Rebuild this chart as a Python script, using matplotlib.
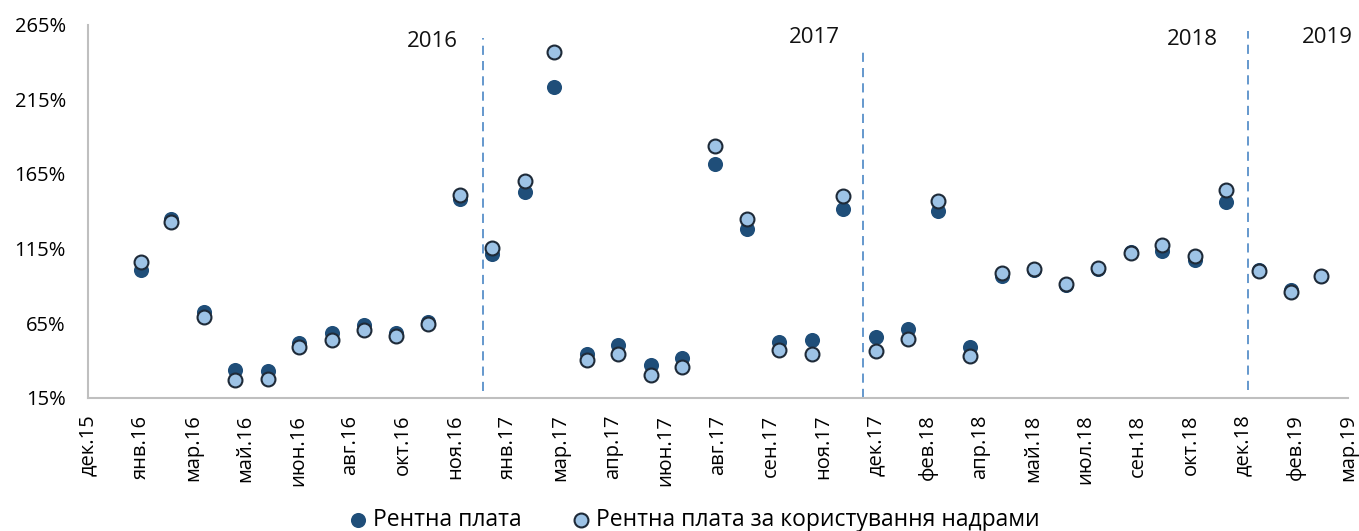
import matplotlib.pyplot as plt
import pandas as pd

# ==========================================================
# Data
# ==========================================================

months = pd.date_range("2016-01-31", periods=38, freq="ME")

rent_total = [
    100.5, 134.9, 72.3, 33.5, 33.3, 51.8, 58.5, 63.6, 58.5, 65.6, 148.3, 111.6,
    153.0, 223.0, 44.5, 50.7, 36.8, 41.8, 171.9, 128.2, 52.2, 53.6, 141.6, 55.9,
    61.4, 140.5, 48.9, 96.9, 100.9, 90.9, 101.1, 112.8, 113.2, 107.2, 146.0,
    100.6, 87.1, 96.9,
]
rent_subsoil = [
    105.8, 133.1, 69.3, 27.3, 27.9, 49.2, 54.0, 60.7, 56.3, 64.8, 151.0, 115.2,
    160.3, 246.5, 40.7, 44.5, 30.1, 35.5, 184.0, 134.9, 46.9, 44.7, 150.5, 46.2,
    54.7, 147.2, 43.3, 98.7, 101.6, 91.1, 101.8, 112.1, 117.2, 109.8, 154.0,
    100.3, 86.0, 96.4,
]

series_names = ["Рентна плата", "Рентна плата за користування надрами"]

year_labels = ["2016", "2017", "2018", "2019"]
year_label_dates = pd.to_datetime(["2016-11-04", "2017-11-03", "2018-10-29", "2019-03-06"])
year_label_y = [253.6, 256.3, 255.0, 256.3]

divider_dates = pd.to_datetime(["2016-12-22", "2017-12-19", "2018-12-21"])
divider_top = [256.3, 247.0, 261.0]
divider_bottom = [19.9, 15.0, 20.6]

month_abbr = ["янв", "фев", "мар", "апр", "май", "июн",
              "июл", "авг", "сен", "окт", "ноя", "дек"]

# date axis: 50-day major unit, as in the source workbook
axis_start = pd.Timestamp("2015-12-12")
tick_dates = pd.date_range(axis_start, periods=25, freq="50D")
tick_labels = [f"{month_abbr[d.month - 1]}.{d.year % 100:02d}" for d in tick_dates]

# ==========================================================
# Plot
# ==========================================================

plt.rcParams["font.family"] = ["Open Sans", "DejaVu Sans"]

fig = plt.figure(figsize=(13.59, 5.31), dpi=100)
ax = fig.add_axes([0.0648, 0.2505, 0.9272, 0.7032])

ax.scatter(months, rent_total, s=118, color="#1f4e79", linewidths=0,
           zorder=3, label=series_names[0])
ax.scatter(months, rent_subsoil, s=100, color="#9dc3e6", edgecolors="#1e2a38",
           linewidths=1.5, zorder=4, label=series_names[1])

for d, top, bottom in zip(divider_dates, divider_top, divider_bottom):
    ax.plot([d, d], [bottom, top], color="#3a7cc0", linewidth=1.1,
            dashes=(6, 4), zorder=2)

for label, d, y in zip(year_labels, year_label_dates, year_label_y):
    ax.text(d, y, label, fontsize=16, ha="center", va="center", color="#111111")

ax.set_xlim(tick_dates[0], tick_dates[-1])
ax.set_xticks(tick_dates)
ax.set_xticklabels(tick_labels, rotation=90, fontsize=14.5)

ax.set_ylim(15, 265)
ax.set_yticks(range(15, 266, 50))
ax.set_yticklabels([f"{v}%" for v in range(15, 266, 50)], fontsize=14.5)

ax.tick_params(axis="x", length=0, pad=12)
ax.tick_params(axis="y", length=0, pad=16)
for side in ("top", "right"):
    ax.spines[side].set_visible(False)
for side in ("left", "bottom"):
    ax.spines[side].set_color("#bfbfbf")
    ax.spines[side].set_linewidth(1.5)

fig.legend(
    loc="center",
    bbox_to_anchor=(0.511, 0.021),
    ncol=2,
    frameon=False,
    fontsize=16.5,
    handlelength=0.8,
    handletextpad=0.25,
    columnspacing=2.2,
)

fig.savefig("out.png", dpi=100)
plt.close(fig)
